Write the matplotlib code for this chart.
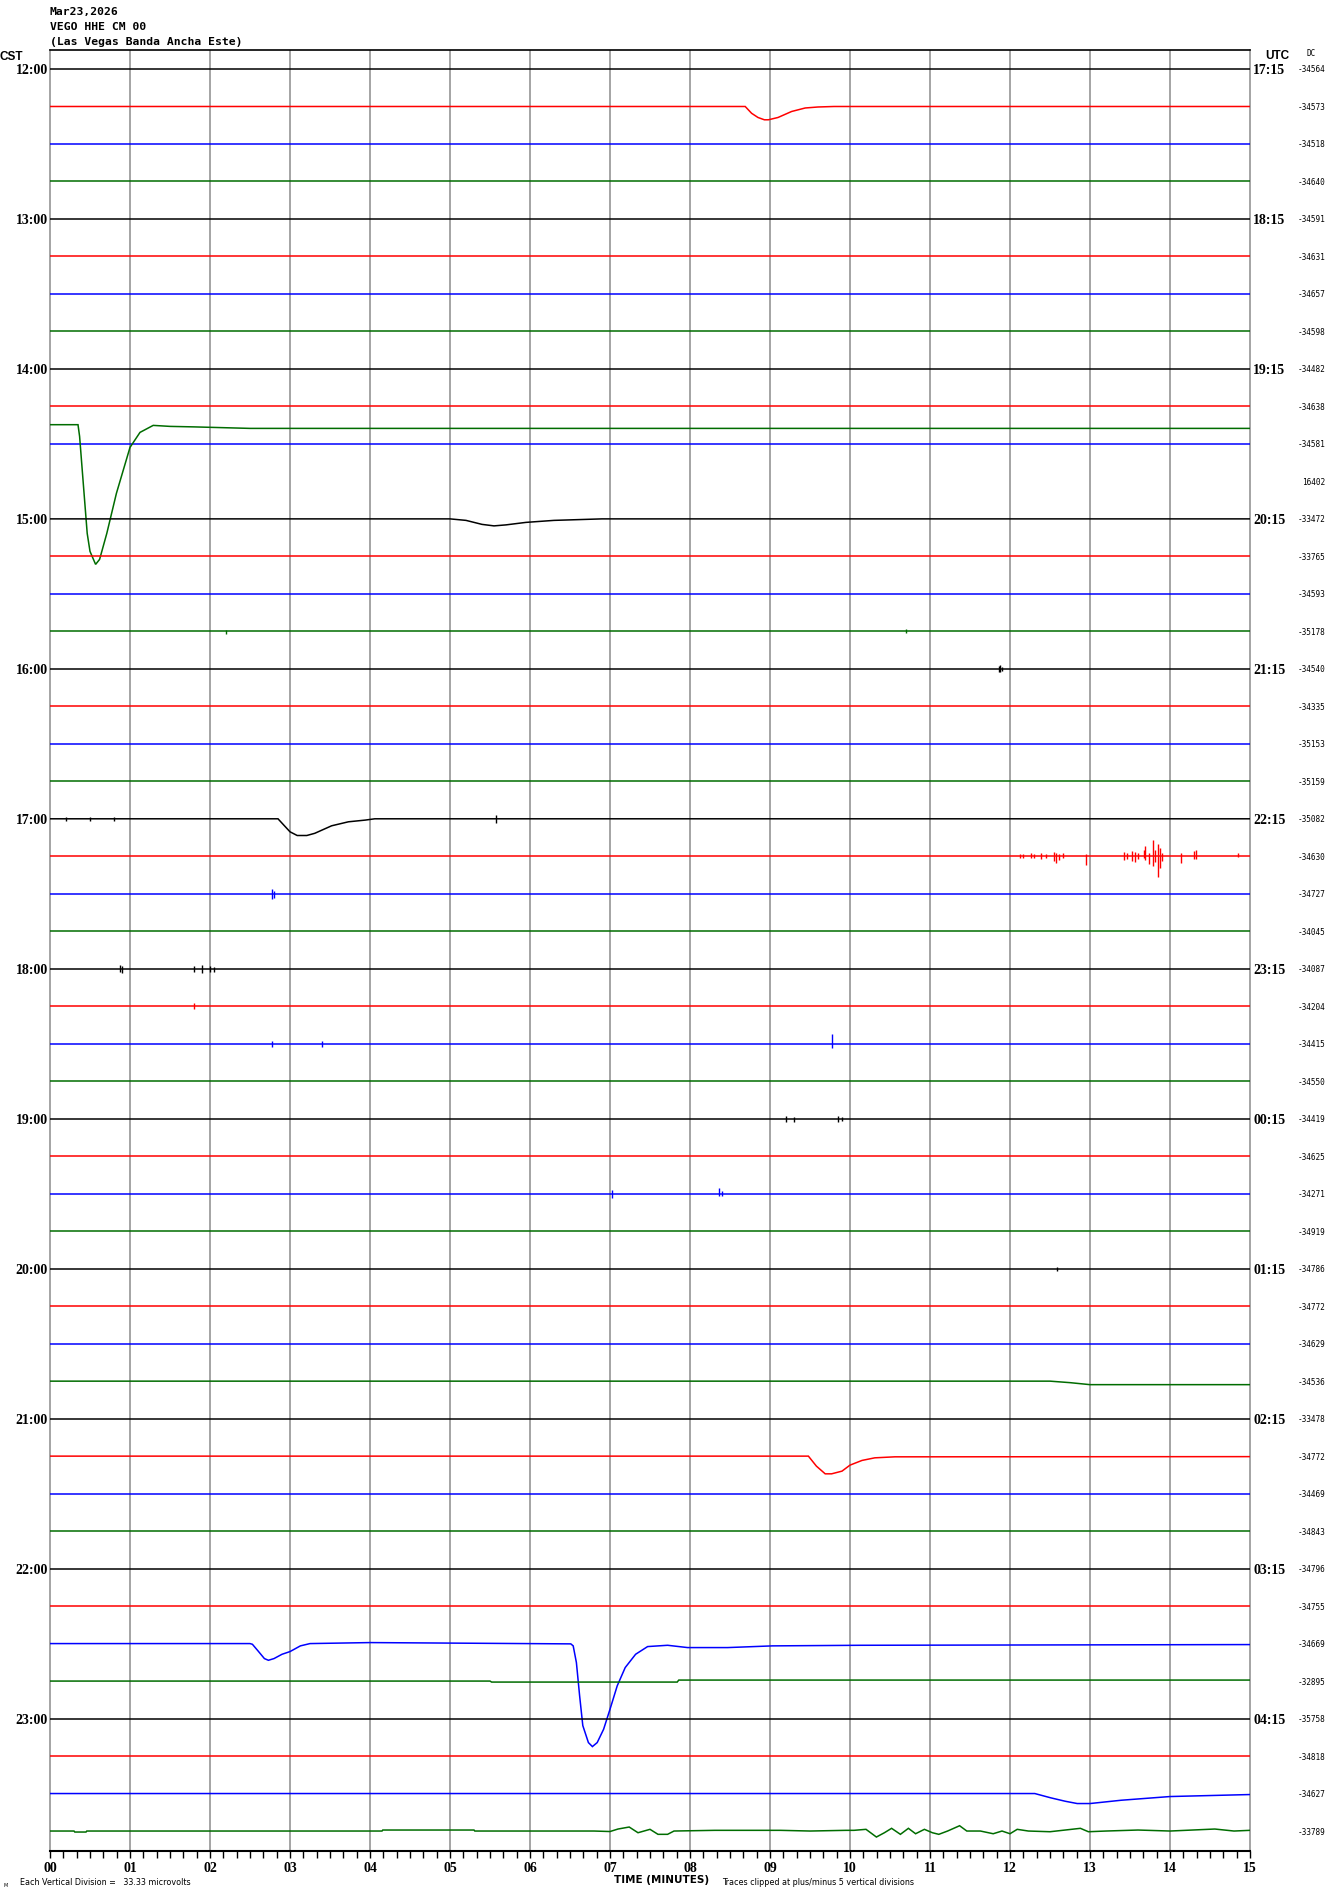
import numpy as np
import matplotlib
matplotlib.use("Agg")
import matplotlib.pyplot as plt

# ---------------- data ----------------
HEADER = ["Mar23,2026", "VEGO HHE CM 00", "(Las Vegas Banda Ancha Este)"]
N_ROWS = 48
CST_HOURS = [12, 13, 14, 15, 16, 17, 18, 19, 20, 21, 22, 23]
UTC_LABELS = ["17:15", "18:15", "19:15", "20:15", "21:15", "22:15",
              "23:15", "00:15", "01:15", "02:15", "03:15", "04:15"]
DC_VALUES = ["-34564", "-34573", "-34518", "-34640",
             "-34591", "-34631", "-34657", "-34598",
             "-34482", "-34638", "-34581", "16402",
             "-33472", "-33765", "-34593", "-35178",
             "-34540", "-34335", "-35153", "-35159",
             "-35082", "-34630", "-34727", "-34045",
             "-34087", "-34204", "-34415", "-34550",
             "-34419", "-34625", "-34271", "-34919",
             "-34786", "-34772", "-34629", "-34536",
             "-33478", "-34772", "-34469", "-34843",
             "-34796", "-34755", "-34669", "-32895",
             "-35758", "-34818", "-34627", "-33789"]
MINUTE_LABELS = ["00", "01", "02", "03", "04", "05", "06", "07",
                 "08", "09", "10", "11", "12", "13", "14", "15"]
TRACE_COLORS = ["#000000", "#ff0000", "#0000ff", "#006c00"]

# event waveforms: minute, offset (pixels, positive = downward)
EV01_T = [8.69, 8.77, 8.85, 8.93, 8.98, 9.1, 9.27, 9.44, 9.6, 9.8]
EV01_Y = [0, 6.8, 11, 13.3, 13.3, 11, 5, 1.5, 0.5, 0]
EV11_T = [0, 0.35, 0.37, 0.40, 0.465, 0.5, 0.57, 0.62, 0.71, 0.83, 1.0, 1.125,
          1.29, 1.5, 1.8, 2.5, 15]
EV11_Y = [-56.7, -56.7, -45, -14.3, 52, 70, 83, 78, 52, 12, -34, -49,
          -56, -55, -54.5, -53, -53]
EV12_T = [5.0, 5.2, 5.4, 5.55, 5.7, 5.95, 6.3, 6.9]
EV12_Y = [0, 1.5, 5.5, 7, 6, 3.5, 1.5, 0]
EV20_T = [2.85, 3.0, 3.09, 3.21, 3.31, 3.52, 3.73, 3.94, 4.06]
EV20_Y = [0, 13, 16.7, 16.7, 14.5, 7, 3, 1.3, 0]
EV35_T = [12.5, 12.75, 13.0, 15]
EV35_Y = [0, 1.5, 3.5, 3.5]
EV37_T = [9.48, 9.58, 9.69, 9.77, 9.9, 10.0, 10.15, 10.31, 10.56, 15]
EV37_Y = [0, 10, 17.7, 17.7, 15, 9, 4.3, 1.7, 0.7, 0.5]
EV42_T = [0, 2.5, 2.53, 2.6, 2.68, 2.73, 2.8, 2.9, 3.0, 3.13, 3.25, 4.0, 6.51,
          6.54, 6.58, 6.62, 6.66, 6.73, 6.78, 6.84, 6.92, 7.0, 7.09, 7.19, 7.32,
          7.47, 7.72, 7.97, 8.47, 9.03, 10.13, 15]
EV42_Y = [0, 0, 0.7, 7.3, 15, 16.7, 15, 10.7, 8, 2.3, 0, -1, 0.3,
          2.3, 19, 52, 82, 99, 103, 99, 85.7, 65.7, 42.3, 24, 10.7,
          3, 1.7, 4, 4, 2.3, 1.7, 1]
EV43_T = [0, 5.5, 5.52, 7.84, 7.86, 15]
EV43_Y = [0, 0, 1, 1, -1, -1]
EV46_T = [12.31, 12.51, 12.69, 12.84, 13.0, 13.39, 14.0, 15]
EV46_Y = [0, 4.3, 7.7, 10, 10, 6.7, 3, 1]
EV47_T = [0, 0.3, 0.31, 0.45, 0.46, 4.15, 4.16, 5.3, 5.31, 6.8, 7.0, 7.1, 7.24,
          7.35, 7.5, 7.6, 7.72, 7.8, 8.31, 9.13, 9.5, 9.95, 10.05, 10.2, 10.33,
          10.43, 10.52, 10.63, 10.73, 10.82, 10.93, 11.03, 11.11, 11.22, 11.37,
          11.46, 11.63, 11.79, 11.9, 12.0, 12.09, 12.23, 12.5, 12.88, 12.98,
          13.2, 13.6, 14.0, 14.56, 14.8, 15]
EV47_Y = [0, 0, 1, 1, 0, 0, -1, -1, 0, 0, 0.5, -2, -4,
          1.7, -1.7, 3.3, 3.3, 0, -0.7, -0.7, 0, -0.7, -0.7, -1.7, 6,
          1.7, -2.7, 3.3, -2.7, 2.7, -1.7, 1.7, 3.3, 0, -5.3,
          0, 0, 2.7, 0, 2.7, -1.7, 0, 0.7, -2.7, 0.7,
          0, -1, 0, -2, 0, -0.7]

# short spikes: row, minute, top offset, bottom offset (pixels)
SPK_ROW = [21] * 28 + [16, 16, 16, 20, 20, 20, 20, 22, 22, 24, 24, 24, 24, 24, 24,
                       25, 26, 26, 26, 28, 28, 28, 28, 30, 30, 30, 32, 15, 15]
SPK_T = [12.12, 12.16, 12.26, 12.30, 12.39, 12.45, 12.55, 12.58, 12.61, 12.66,
         12.95, 13.43, 13.46, 13.53, 13.56, 13.60, 13.67, 13.69, 13.74, 13.79,
         13.81, 13.85, 13.875, 13.90, 14.14, 14.30, 14.33, 14.85,
         11.86, 11.88, 11.90, 5.57, 0.2, 0.5, 0.8, 2.77, 2.80,
         0.88, 0.90, 1.80, 1.90, 2.00, 2.05,
         1.80, 9.78, 2.77, 3.40, 9.20, 9.30, 9.85, 9.90, 7.03, 8.36, 8.40,
         12.59, 2.20, 10.70]
SPK_LO = [-2, -2, -3, -2, -3, -2, -4, -3, -2, -3,
          -2, -4, -3, -5, -4, -3, -6, -10, -3, -16.7,
          -6, -12, -8, -3, -3, -5, -6, -3,
          -3, -4, -2, -4, -2, -2, -2, -5, -3,
          -4, -3, -3, -4, -3, -2,
          -3, -10, -3, -3, -3, -2, -3, -2, -4, -6, -3,
          -2, -1, -2]
SPK_HI = [2, 2, 2, 2, 3, 2, 5, 7, 4, 2,
          9, 4, 3, 5, 6, 3, 2, 4, 8, 10,
          6, 20.7, 12, 5, 7, 3, 3, 1,
          3, 3, 2, 4, 2, 2, 2, 5, 4,
          3, 4, 3, 4, 3, 3,
          3, 4, 3, 3, 3, 3, 3, 2, 4, 2, 2,
          2, 3, 2]

EVENTS = {1: (EV01_T, EV01_Y), 11: (EV11_T, EV11_Y), 12: (EV12_T, EV12_Y),
          20: (EV20_T, EV20_Y), 35: (EV35_T, EV35_Y), 37: (EV37_T, EV37_Y),
          42: (EV42_T, EV42_Y), 43: (EV43_T, EV43_Y), 46: (EV46_T, EV46_Y),
          47: (EV47_T, EV47_Y)}

# ---------------- layout ----------------
W, H = 1330, 1894
ROW0 = 69.0
SP = 37.49
X0, X1 = 50, 1250
YTOP, YBOT = 50, 1851

fig = plt.figure(figsize=(W / 100, H / 100), dpi=100)
fig.patch.set_facecolor("white")
ax = fig.add_axes([X0 / W, 1 - YBOT / H, (X1 - X0) / W, (YBOT - YTOP) / H])
ax.set_xlim(0, 15)
ax.set_ylim((YBOT - ROW0) / SP, (YTOP - ROW0) / SP)


def fx(px):
    return px / W


def fy(py):
    return 1 - py / H


# grid
for m in range(1, 15):
    ax.axvline(m, color="#8c8c8c", lw=1.1, zorder=1)

# traces
for r in range(N_ROWS):
    c = TRACE_COLORS[r % 4]
    if r in EVENTS:
        t, y = EVENTS[r]
        t = list(t)
        y = list(y)
        if t[0] > 0:
            t = [0] + t
            y = [0] + y
        if t[-1] < 15:
            t = t + [15]
            y = y + [y[-1]]
    else:
        t, y = [0, 15], [0, 0]
    ax.plot(t, r + np.array(y) / SP, color=c, lw=1.1, zorder=3,
            solid_joinstyle="miter")

for r, t, lo, hi in zip(SPK_ROW, SPK_T, SPK_LO, SPK_HI):
    ax.vlines(t, r + lo / SP, r + hi / SP, color=TRACE_COLORS[r % 4],
              lw=1.0, zorder=3)

# spines / ticks
for s in ["left", "right"]:
    ax.spines[s].set_color("#8c8c8c")
    ax.spines[s].set_linewidth(1.1)
ax.spines["top"].set_color("black")
ax.spines["top"].set_linewidth(1.2)
ax.spines["bottom"].set_color("black")
ax.spines["bottom"].set_linewidth(1.5)
ax.set_yticks([])
ax.set_xticks(np.arange(0, 15.01, 1 / 6))
ax.set_xticklabels([])
ax.tick_params(axis="x", direction="out", length=5, width=1, color="black")

# header
mono = "DejaVu Sans Mono"
for i, (txt, yy) in enumerate(zip(HEADER, [12, 27, 42])):
    fig.text(fx(50), fy(yy), txt, fontsize=8.2, family=mono, weight="bold",
             va="center", ha="left")

serif = "Liberation Serif"
fig.text(fx(0), fy(57), "CST", fontsize=8.5, family="Liberation Sans",
         weight="bold", va="center", ha="left")
fig.text(fx(1265), fy(56), "UTC", fontsize=8.5, family="Liberation Sans",
         weight="bold", va="center", ha="left")
fig.text(fx(1311), fy(54), "DC", fontsize=5.5, family=mono,
         va="center", ha="center")

for k, h in enumerate(CST_HOURS):
    yy = ROW0 + 4 * k * SP + 2
    fig.text(fx(48), fy(yy), f"{h}:00", fontsize=10, family=serif,
             weight="bold", va="center", ha="right")
    fig.text(fx(1253), fy(yy), UTC_LABELS[k], fontsize=10, family=serif,
             weight="bold", va="center", ha="left")

for r, v in enumerate(DC_VALUES):
    fig.text(fx(1325), fy(ROW0 + r * SP + 1), v, fontsize=5.6, family=mono,
             va="center", ha="right")

for m, lab in enumerate(MINUTE_LABELS):
    fig.text(fx(X0 + 80 * m), fy(1868), lab, fontsize=10, family=serif,
             weight="bold", va="center", ha="center")

fig.text(fx(662), fy(1880), "TIME (MINUTES)", fontsize=7.5,
         family="DejaVu Sans", weight="bold", va="center", ha="center")
fig.text(fx(20), fy(1882), "Each Vertical Division =   33.33 microvolts",
         fontsize=5.8, family="DejaVu Sans", va="center", ha="left")
fig.text(fx(722), fy(1882), "Traces clipped at plus/minus 5 vertical divisions",
         fontsize=5.8, family="DejaVu Sans", va="center", ha="left")
fig.text(fx(4), fy(1885), "M", fontsize=3.5, family="DejaVu Sans",
         va="center", ha="left")

fig.savefig("out.png", dpi=100, facecolor="white")
